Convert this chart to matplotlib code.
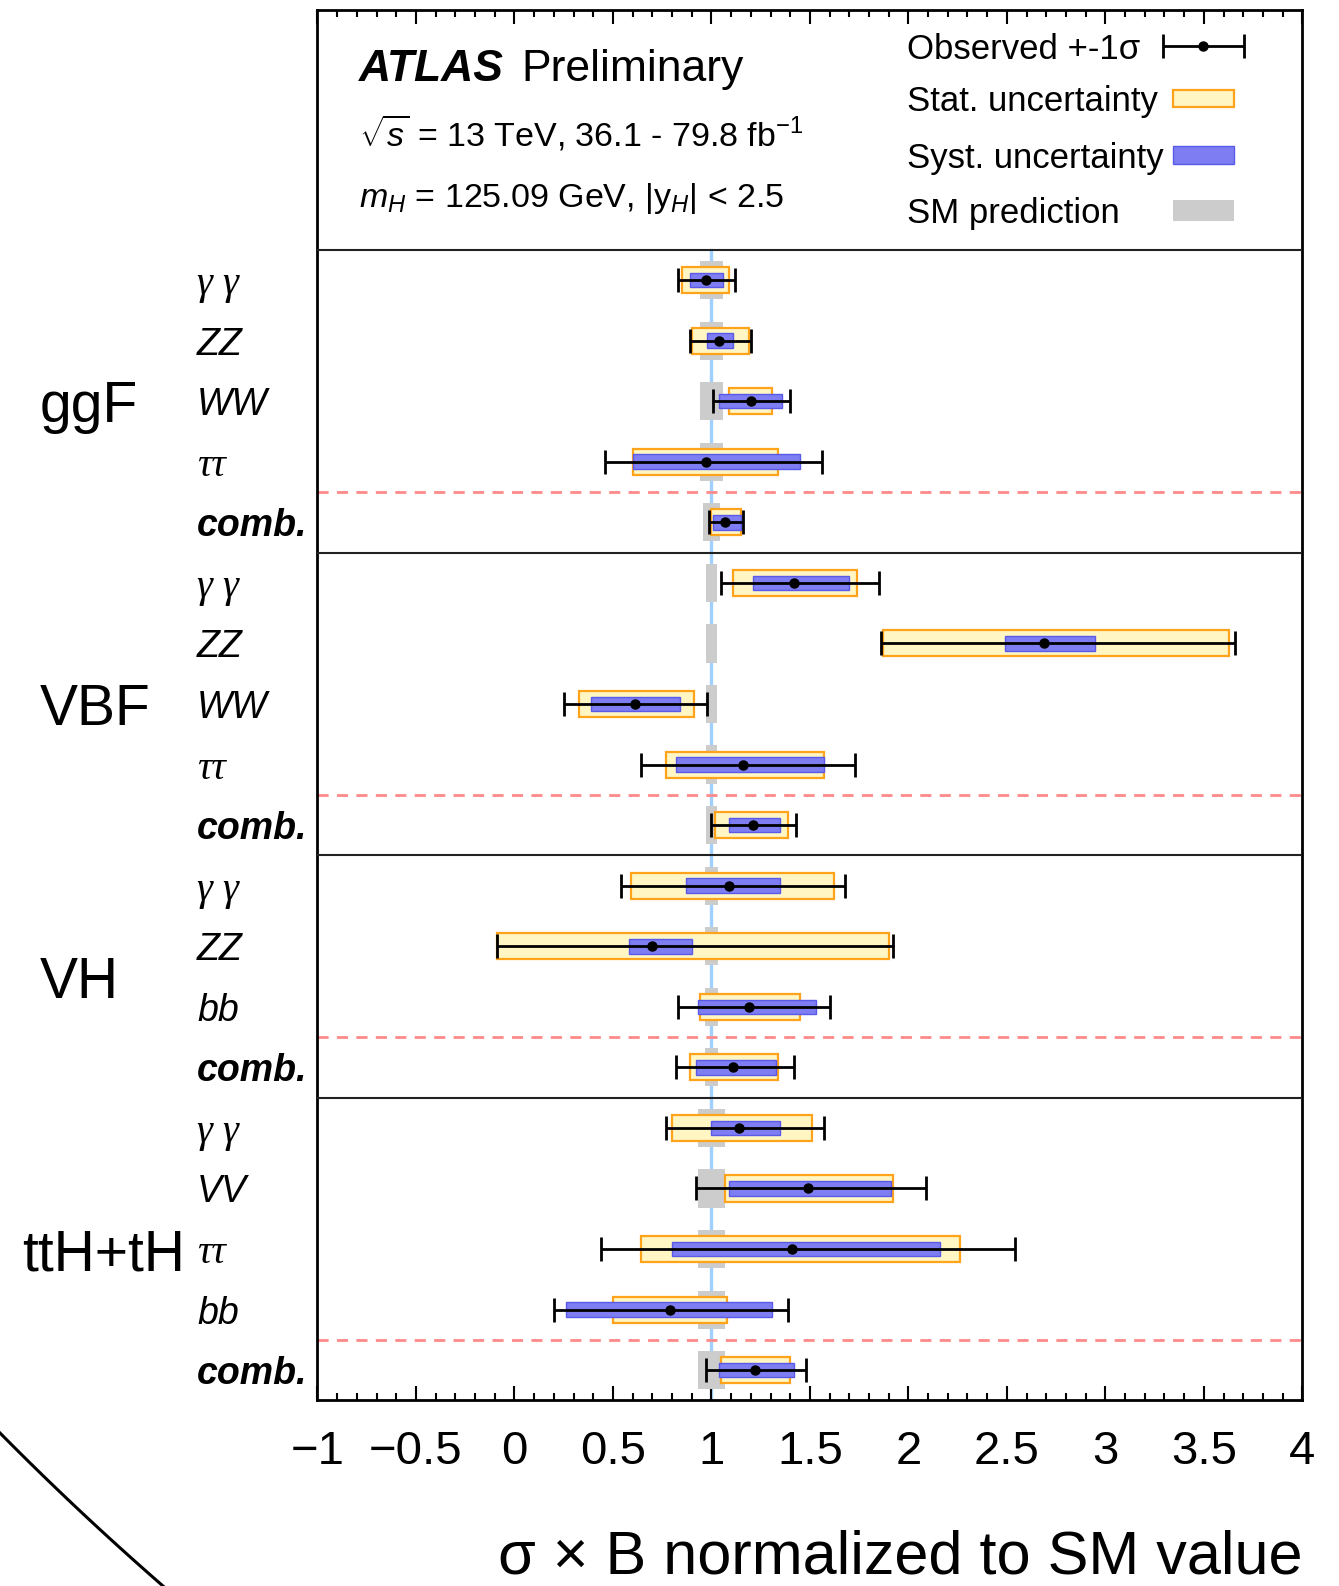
import numpy as np
import matplotlib
matplotlib.use("Agg")
import matplotlib.pyplot as plt
from matplotlib.patches import Rectangle
from matplotlib.lines import Line2D
from matplotlib.ticker import MultipleLocator

plt.rcParams["font.family"] = ["Liberation Sans", "DejaVu Sans"]
plt.rcParams["mathtext.fontset"] = "custom"
plt.rcParams["mathtext.rm"] = "Liberation Sans"
plt.rcParams["mathtext.it"] = "Liberation Sans:italic"
plt.rcParams["mathtext.bf"] = "Liberation Sans:bold"
plt.rcParams["axes.unicode_minus"] = True

# ---- data, rows listed top to bottom ----
groups = ["ggF", "VBF", "VH", "ttH+tH"]
group_sizes = [5, 5, 4, 5]
channels = ["γ γ", "ZZ", "WW", "ττ", "comb.",
            "γ γ", "ZZ", "WW", "ττ", "comb.",
            "γ γ", "ZZ", "bb", "comb.",
            "γ γ", "VV", "ττ", "bb", "comb."]

obs = np.array([0.97, 1.04, 1.20, 0.97, 1.07,
                1.42, 2.69, 0.61, 1.16, 1.21,
                1.09, 0.70, 1.19, 1.11,
                1.14, 1.49, 1.41, 0.79, 1.22])
tot_lo = np.array([0.83, 0.89, 1.01, 0.46, 0.99,
                   1.05, 1.86, 0.25, 0.64, 1.00,
                   0.54, -0.09, 0.83, 0.82,
                   0.77, 0.92, 0.44, 0.20, 0.97])
tot_hi = np.array([1.12, 1.20, 1.40, 1.56, 1.16,
                   1.85, 3.66, 0.98, 1.73, 1.43,
                   1.68, 1.92, 1.60, 1.42,
                   1.57, 2.09, 2.54, 1.39, 1.48])
stat_lo = np.array([0.85, 0.90, 1.09, 0.60, 1.00,
                    1.11, 1.87, 0.33, 0.77, 1.02,
                    0.59, -0.09, 0.94, 0.89,
                    0.80, 1.07, 0.64, 0.50, 1.05])
stat_hi = np.array([1.09, 1.19, 1.31, 1.34, 1.15,
                    1.74, 3.63, 0.91, 1.57, 1.39,
                    1.62, 1.90, 1.45, 1.34,
                    1.51, 1.92, 2.26, 1.08, 1.40])
syst_lo = np.array([0.89, 0.98, 1.04, 0.60, 1.01,
                    1.21, 2.49, 0.39, 0.82, 1.09,
                    0.87, 0.58, 0.93, 0.92,
                    1.00, 1.09, 0.80, 0.26, 1.04])
syst_hi = np.array([1.06, 1.11, 1.36, 1.45, 1.15,
                    1.70, 2.95, 0.84, 1.57, 1.35,
                    1.35, 0.90, 1.53, 1.33,
                    1.35, 1.91, 2.16, 1.31, 1.42])
# SM prediction (theory) half-widths around 1
sm_err = np.array([0.06, 0.06, 0.06, 0.06, 0.045,
                   0.03, 0.03, 0.03, 0.03, 0.03,
                   0.035, 0.035, 0.035, 0.035,
                   0.07, 0.07, 0.07, 0.07, 0.07])

xtick_vals = [-1, -0.5, 0, 0.5, 1, 1.5, 2, 2.5, 3, 3.5, 4]
xtick_labels = ["\u22121", "\u22120.5", "0", "0.5", "1", "1.5", "2", "2.5", "3", "3.5", "4"]
legend_labels = ["Observed +-1σ", "Stat. uncertainty", "Syst. uncertainty", "SM prediction"]

# ---- styles ----
STAT_FC, STAT_EC = "#fff6c4", "#ffa31a"
SYST_FC, SYST_EC = "#7e7ef2", "#5a5ae8"
SM_FC = "#cccccc"
SM_LINE = "#9fd0ff"

n = len(channels)
ypos = np.arange(n)[::-1] + 0.5
ytop = 22.96
header_y = n

fig = plt.figure(figsize=(13.39, 15.86), dpi=100)
ax = fig.add_axes([0.2371, 0.1170, 0.7355, 0.8767])
ax.set_xlim(-1, 4)
ax.set_ylim(0, ytop)

# SM reference line
ax.plot([1, 1], [0, header_y], color=SM_LINE, lw=2.4, zorder=1)

for i in range(n):
    y = ypos[i]
    ax.add_patch(Rectangle((1 - sm_err[i], y - 0.315), 2 * sm_err[i], 0.63,
                           fc=SM_FC, ec="none", zorder=2))
    ax.add_patch(Rectangle((stat_lo[i], y - 0.215), stat_hi[i] - stat_lo[i], 0.43,
                           fc=STAT_FC, ec=STAT_EC, lw=1.6, zorder=3))
    ax.add_patch(Rectangle((syst_lo[i], y - 0.12), syst_hi[i] - syst_lo[i], 0.24,
                           fc=SYST_FC, ec=SYST_EC, lw=1.0, zorder=4))

ebar_style = dict(fmt="o", color="black", ms=6.5, lw=2.0, capsize=8.3,
                  capthick=2.0, zorder=5)
ax.errorbar(obs, ypos, xerr=[obs - tot_lo, tot_hi - obs], **ebar_style)

# group separators and "comb." dashed lines
bounds = np.cumsum(group_sizes[::-1])
for b in bounds:
    ax.axhline(b, color="#222222", lw=1.5, zorder=6)
for b in np.concatenate([[0], bounds[:-1]]):
    ax.axhline(b + 1, color="#ff8a8a", lw=2.0, ls=(0, (4, 3)), zorder=1)

# labels on the left
ytr = ax.get_yaxis_transform()
for i in range(n):
    lab = channels[i]
    style = dict(fontsize=27, style="italic", va="center_baseline", ha="left",
                 transform=ytr)
    if lab == "comb.":
        style["weight"] = "bold"
    if lab[0] in "γτ":
        style["family"] = "Liberation Serif"
        style["fontsize"] = 29
    ax.text(-0.1223, ypos[i], lab, **style)

start = 0
for g, size in zip(groups, group_sizes):
    ymid = ypos[start:start + size].mean()
    xg = -0.300 if g == "ttH+tH" else -0.282
    ax.text(xg, ymid, g, fontsize=41, va="center_baseline", ha="left",
            transform=ytr)
    start += size

# header texts
ax.text(-0.79, 21.78, "ATLAS", fontsize=32, style="italic", weight="bold",
        va="baseline")
ax.text(0.033, 21.78, "Preliminary", fontsize=32, va="baseline")
ax.text(-0.79, 20.70, r"$\sqrt{s}$ = 13 TeV, 36.1 - 79.8 fb$^{-1}$",
        fontsize=24.5, va="baseline")
ax.text(-0.79, 19.70, r"$m_{H}$ = 125.09 GeV, |y$_{H}$| < 2.5",
        fontsize=24.5, va="baseline")

# legend (text on the left, key on the right)
leg_y = [22.37, 21.50, 20.56, 19.65]
for yy, lab in zip(leg_y, legend_labels):
    ax.text(1.992, yy, lab, fontsize=25, va="center_baseline", ha="left")
ax.errorbar([3.495], [leg_y[0]], xerr=[[0.203], [0.208]], **ebar_style)
key_x0, key_w = 3.343, 0.31
ax.add_patch(Rectangle((key_x0, leg_y[1] - 0.14), key_w, 0.28,
                       fc=STAT_FC, ec=STAT_EC, lw=1.6))
ax.add_patch(Rectangle((key_x0, leg_y[2] - 0.15), key_w, 0.30,
                       fc=SYST_FC, ec=SYST_EC, lw=1.0))
ax.add_patch(Rectangle((key_x0, leg_y[3] - 0.175), key_w, 0.35,
                       fc=SM_FC, ec="none"))

# axes cosmetics
for sp in ax.spines.values():
    sp.set_linewidth(2.0)
ax.set_yticks([])
ax.set_xticks(xtick_vals)
ax.set_xticklabels(xtick_labels)
ax.xaxis.set_minor_locator(MultipleLocator(0.1))
ax.tick_params(axis="x", which="both", direction="in", top=True,
               labelsize=34, pad=21, width=1.5)
ax.tick_params(axis="x", which="major", length=10)
ax.tick_params(axis="x", which="minor", length=5)
ax.set_xlabel("σ × B normalized to SM value", fontsize=44, loc="right",
              labelpad=40)

# decorative arc in the lower-left corner (large circle, centre up-right)
W, H = 1339, 1586
p0, p1 = np.array([0.0, 1433.0]), np.array([163.0, 1586.0])
R = 3000.0
mid = (p0 + p1) / 2
d = p1 - p0
perp = np.array([d[1], -d[0]]) / np.hypot(*d)
c = mid + perp * np.sqrt(R ** 2 - (np.hypot(*d) / 2) ** 2)
a0 = np.arctan2(p0[1] - c[1], p0[0] - c[0])
a1 = np.arctan2(p1[1] - c[1], p1[0] - c[0])
t = np.linspace(a0, a1, 60)
px = c[0] + R * np.cos(t)
py = c[1] + R * np.sin(t)
fig.add_artist(Line2D(px / W, 1 - py / H, color="black", lw=2.2,
                      transform=fig.transFigure))

fig.savefig("out.png", dpi=100)
